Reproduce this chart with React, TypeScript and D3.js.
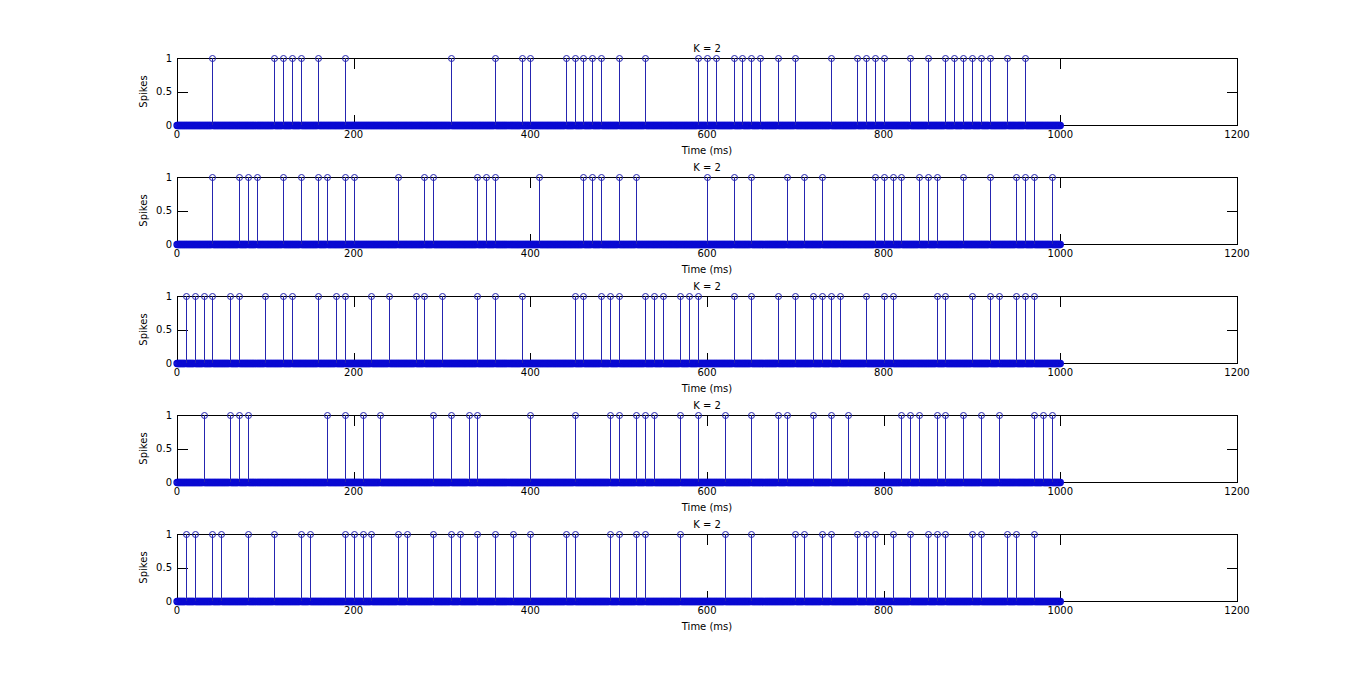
import React from 'react';
import * as d3 from 'd3';

// Spike times (ms) for each of the five trials
const spikes1 = [40,110,120,130,140,160,190,310,360,390,400,440,450,460,470,480,500,530,590,600,610,630,640,650,660,680,700,740,770,780,790,800,830,850,870,880,890,900,910,920,940,960];
const spikes2 = [40,70,80,90,120,140,160,170,190,200,250,280,290,340,350,360,410,460,470,480,500,520,600,630,650,690,710,730,790,800,810,820,840,850,860,890,920,950,960,970,990];
const spikes3 = [10,20,30,40,60,70,100,120,130,160,180,190,220,240,270,280,300,340,360,390,450,460,480,490,500,530,540,550,570,580,590,630,650,680,700,720,730,740,750,780,800,810,860,870,900,920,930,950,960,970];
const spikes4 = [30,60,70,80,170,190,210,230,290,310,330,340,400,450,490,500,520,530,540,570,590,620,650,680,690,720,740,760,820,830,840,860,870,890,910,930,970,980,990];
const spikes5 = [10,20,40,50,80,110,140,150,190,200,210,220,250,260,290,310,320,340,360,380,400,440,450,490,500,520,530,570,620,650,700,710,730,740,770,780,790,810,830,850,860,870,900,910,940,950,970];

const trials = [spikes1, spikes2, spikes3, spikes4, spikes5];
const titles = ['K = 2', 'K = 2', 'K = 2', 'K = 2', 'K = 2'];
const xTicks = [0, 200, 400, 600, 800, 1000, 1200];
const yTicks = [0, 0.5, 1];
const yTickLabels = ['0', '0.5', '1'];
const xDomain = [0, 1200];
const simDuration = 1000; // ms, one sample per ms
const xLabel = 'Time (ms)';
const yLabel = 'Spikes';

const W = 1366;
const H = 689;
const LEFT = 177;
const RIGHT = 1237;
const TOP0 = 58;
const PITCH = 119;
const AX_H = 67;
const TICK = 10.6;
const FONT = '"DejaVu Sans", sans-serif';
const STEM = '#2525b0';
const BASE = '#0a0ad2';

export default function App() {
  const x = d3.scaleLinear().domain(xDomain).range([LEFT, RIGHT]);
  const times = d3.range(0, simDuration + 1);

  return (
    <svg width={W} height={H} style={{ position: 'absolute', left: 0, top: 0, background: '#fff' }} fontFamily={FONT}>
      <rect x={0} y={0} width={W} height={H} fill="#fff" />
      {trials.map((sp, i) => {
        const top = TOP0 + i * PITCH;
        const bottom = top + AX_H;
        const y = d3.scaleLinear().domain([0, 1]).range([bottom, top]);
        const spikeSet = new Set(sp);
        const zeros = times.filter(t => !spikeSet.has(t));
        return (
          <g key={i}>
            {/* axes box */}
            <rect x={LEFT + 0.5} y={top + 0.5} width={RIGHT - LEFT} height={AX_H} fill="none" stroke="#000" strokeWidth={1} shapeRendering="crispEdges" />
            {/* x ticks */}
            {xTicks.map(v => {
              const px = Math.round(x(v)) + 0.5;
              return (
                <g key={'xt' + v}>
                  <line x1={px} x2={px} y1={bottom + 0.5} y2={bottom + 0.5 - TICK} stroke="#000" shapeRendering="crispEdges" />
                  <line x1={px} x2={px} y1={top + 0.5} y2={top + 0.5 + TICK} stroke="#000" shapeRendering="crispEdges" />
                  <text x={x(v)} y={bottom + 13} fontSize={10} textAnchor="middle" fill="#000">{v}</text>
                </g>
              );
            })}
            {/* y ticks */}
            {yTicks.map((v, j) => {
              const py = Math.round(y(v)) + 0.5;
              return (
                <g key={'yt' + v}>
                  <line x1={LEFT + 0.5} x2={LEFT + 0.5 + TICK} y1={py} y2={py} stroke="#000" shapeRendering="crispEdges" />
                  <line x1={RIGHT + 0.5} x2={RIGHT + 0.5 - TICK} y1={py} y2={py} stroke="#000" shapeRendering="crispEdges" />
                  <text x={LEFT - 5} y={y(v)} dy="0.35em" fontSize={10} textAnchor="end" fill="#000">{yTickLabels[j]}</text>
                </g>
              );
            })}
            {/* baseline markers (value 0) */}
            {zeros.map(t => (
              <circle key={'z' + t} cx={x(t)} cy={y(0) + 0.5} r={3} fill="none" stroke={BASE} strokeWidth={1.3} />
            ))}
            {/* stems */}
            {sp.map(t => (
              <line key={'s' + t} x1={Math.round(x(t)) + 0.5} x2={Math.round(x(t)) + 0.5} y1={y(0)} y2={y(1)} stroke={STEM} strokeWidth={1} shapeRendering="crispEdges" />
            ))}
            {sp.map(t => (
              <circle key={'c' + t} cx={Math.round(x(t)) + 0.5} cy={y(1) + 0.5} r={3} fill="none" stroke={STEM} strokeWidth={1} />
            ))}
            <text x={(LEFT + RIGHT) / 2} y={top - 6} fontSize={10} textAnchor="middle" fill="#000">{titles[i]}</text>
            <text x={(LEFT + RIGHT) / 2} y={bottom + 29} fontSize={10} textAnchor="middle" fill="#000">{xLabel}</text>
            <text transform={`translate(147,${(top + bottom) / 2}) rotate(-90)`} fontSize={10} textAnchor="middle" fill="#000">{yLabel}</text>
          </g>
        );
      })}
    </svg>
  );
}
